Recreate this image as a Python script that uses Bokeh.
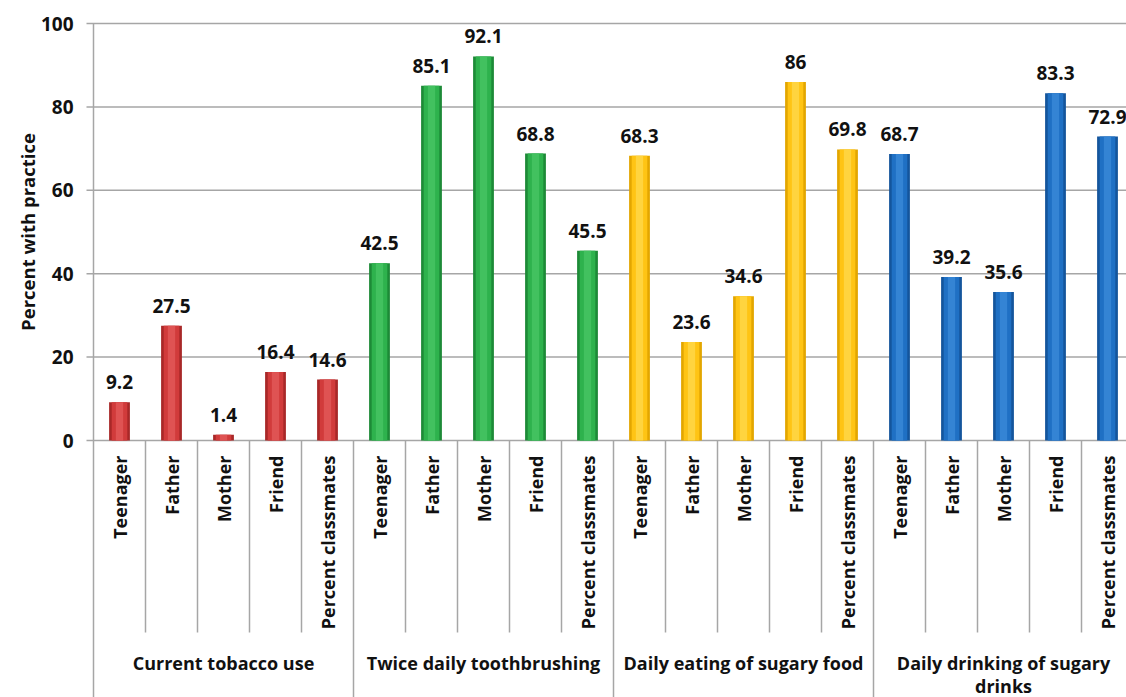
import math
from bokeh.plotting import figure
from bokeh.models import Range1d, ColumnDataSource
from bokeh.core.properties import value
from bokeh.embed import file_html
from bokeh.resources import INLINE

# ---------------- data ----------------
groups = ["Current tobacco use", "Twice daily toothbrushing",
          "Daily eating of sugary food", "Daily drinking of sugary\ndrinks"]
members = ["Teenager", "Father", "Mother", "Friend", "Percent classmates"]
tobacco = [9.2, 27.5, 1.4, 16.4, 14.6]
toothbrushing = [42.5, 85.1, 92.1, 68.8, 45.5]
sugary_food = [68.3, 23.6, 34.6, 86, 69.8]
sugary_drinks = [68.7, 39.2, 35.6, 83.3, 72.9]
value_labels = ["9.2", "27.5", "1.4", "16.4", "14.6",
                "42.5", "85.1", "92.1", "68.8", "45.5",
                "68.3", "23.6", "34.6", "86", "69.8",
                "68.7", "39.2", "35.6", "83.3", "72.9"]
y_ticks = [0, 20, 40, 60, 80, 100]
y_tick_labels = ["0", "20", "40", "60", "80", "100"]
y_title = "Percent with practice"

base_colors = ["#D13B3B", "#2EB24D", "#FFC414", "#1F70C4"]
edge_colors = ["#A82828", "#1D8A37", "#E3A600", "#14559C"]
light_colors = ["#E25A5A", "#47C464", "#FFD84A", "#3A89D8"]

series = [tobacco, toothbrushing, sugary_food, sugary_drinks]

FONT = "Open Sans"
TXT = "#111111"

# ---------------- build ----------------
xs, tops, edges, mids, lights, labs, names = [], [], [], [], [], [], []
k = 0
for g, vals in enumerate(series):
    for j, v in enumerate(vals):
        xs.append(k + 0.5)
        tops.append(v)
        edges.append(edge_colors[g])
        mids.append(base_colors[g])
        lights.append(light_colors[g])
        labs.append(value_labels[k])
        names.append(members[j])
        k += 1
n = k
ncat = len(members)

src = ColumnDataSource(dict(x=xs, top=tops, edge=edges, mid=mids, light=lights,
                            lab=labs, name=names))

W, H = 1126, 697
left_px, zero_px, top_px = 93, 440, 23
cat_px = 52.0
x_start = -left_px / cat_px
x_end = (W - left_px) / cat_px
ppu = (zero_px - top_px) / 100.0
y_start = -(H - zero_px) / ppu
y_end = 100 + top_px / ppu

def px_x(d):  # pixel offset (from axis) -> data x
    return d / cat_px

def px_y(d):  # pixel offset below zero -> data y
    return -d / ppu

p = figure(width=W, height=H, output_backend="svg", toolbar_location=None,
           x_range=Range1d(x_start, x_end), y_range=Range1d(y_start, y_end),
           min_border_left=0, min_border_right=0, min_border_top=0,
           min_border_bottom=0)
p.xaxis.visible = False
p.yaxis.visible = False
p.grid.visible = False
p.outline_line_color = None
p.background_fill_color = "white"
p.border_fill_color = "white"

grid_col = "#A6A6A6"

# gridlines and tick marks
p.segment(x0=[px_x(-7)] * len(y_ticks), y0=y_ticks, x1=[x_end] * len(y_ticks),
          y1=y_ticks, line_color=grid_col, line_width=1.5)
# axis line
p.segment(x0=[0], y0=[y_start], x1=[0], y1=[100], line_color=grid_col,
          line_width=1.5)

# tick labels
p.text(x=[px_x(-20)] * len(y_ticks), y=y_ticks, text=y_tick_labels,
       text_align="right", text_baseline="middle", text_font=value(FONT),
       text_font_style="bold", text_font_size="19px", text_color=TXT)

# bars (pseudo-3D)
p.vbar(x="x", top="top", bottom=0, width=0.40, source=src,
       fill_color="edge", line_color=None)
p.vbar(x="x", top="top", bottom=0, width=0.30, source=src,
       fill_color="mid", line_color=None)
p.vbar(x="x", top="top", bottom=0, width=0.14, source=src,
       fill_color="light", line_color=None, fill_alpha=0.8)

# value labels
p.text(x="x", y="top", text="lab", source=src, text_align="center",
       text_baseline="bottom", y_offset=-13, text_font=value(FONT),
       text_font_style="bold", text_font_size="19px", text_color=TXT)

# category labels (vertical)
p.text(x="x", y=px_y(15), text="name", source=src, angle=math.pi / 2,
       text_align="right", text_baseline="middle", text_font=value(FONT),
       text_font_style="bold", text_font_size="18px", text_color=TXT)

# dividers
sub_x = [i for i in range(1, n) if i % ncat != 0]
p.segment(x0=sub_x, y0=[0] * len(sub_x), x1=sub_x,
          y1=[px_y(632 - zero_px)] * len(sub_x),
          line_color=grid_col, line_width=1.5)
grp_x = [i for i in range(ncat, n + 1, ncat)]
p.segment(x0=grp_x, y0=[0] * len(grp_x), x1=grp_x, y1=[y_start] * len(grp_x),
          line_color=grid_col, line_width=1.5)

# group labels (each line drawn separately)
lx, ly, lt = [], [], []
for g, name in enumerate(groups):
    for li, line in enumerate(name.split("\n")):
        lx.append(g * ncat + ncat / 2)
        ly.append(px_y(662 + 23 * li - zero_px))
        lt.append(line)
p.text(x=lx, y=ly, text=lt, text_align="center", text_baseline="middle",
       text_font=value(FONT), text_font_style="bold", text_font_size="18px",
       text_color=TXT)

# y axis title
p.text(x=[px_x(27 - left_px)], y=[50], text=[y_title], angle=math.pi / 2,
       text_align="center", text_baseline="middle", text_font=value(FONT),
       text_font_style="bold", text_font_size="18.5px", text_color=TXT)

open("out.html", "w").write(file_html(p, INLINE))
